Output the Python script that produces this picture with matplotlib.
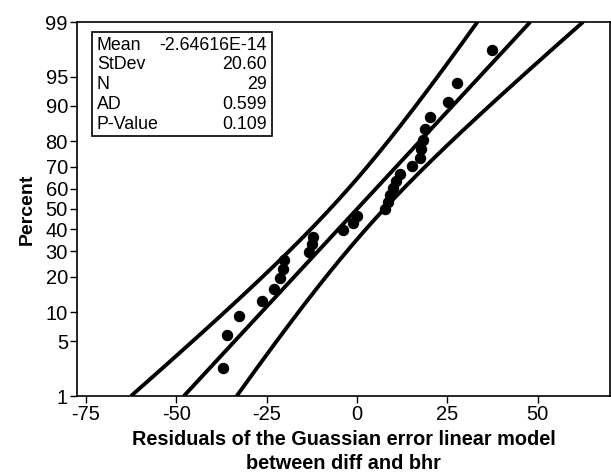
import numpy as np
import matplotlib
matplotlib.use('Agg')
import matplotlib.pyplot as plt
from matplotlib.patches import Rectangle
from statistics import NormalDist

plt.rcParams['font.family'] = ['Liberation Sans', 'DejaVu Sans']

# Residuals (sorted) and their plotting positions in percent
residuals = [-37.1, -36.0, -32.6, -26.2, -23.1, -21.3, -20.5, -20.3, -13.4, -12.5,
             -12.2, -4.0, -1.2, -0.1, 7.7, 8.5, 9.1, 9.9, 10.9, 11.9,
             15.3, 17.4, 17.7, 18.3, 18.9, 20.1, 25.3, 27.7, 37.3]
percents = [2.381, 5.782, 9.184, 12.585, 15.986, 19.388, 22.789, 26.190, 29.592, 32.993,
            36.395, 39.796, 43.197, 46.599, 50.0, 53.401, 56.803, 60.204, 63.605, 67.007,
            70.408, 73.810, 77.211, 80.612, 84.014, 87.415, 90.816, 94.218, 97.619]

# Summary stats shown in the box
mean = -2.64616e-14
stdev = 20.60
n = 29
ad = 0.599
p_value = 0.109

y_ticks = [1, 5, 10, 20, 30, 40, 50, 60, 70, 80, 90, 95, 99]
x_ticks = [-75, -50, -25, 0, 25, 50]

nd = NormalDist()
def pz(p):
    return nd.inv_cdf(p / 100.0)

W, H = 611, 476
fig = plt.figure(figsize=(W / 100, H / 100), dpi=100)
ax = fig.add_axes([77 / W, 1 - 396 / H, (610 - 77) / W, (396 - 22) / H])

# fitted line and 95% confidence band
zlo, zhi = pz(1), pz(99)
z = np.linspace(zlo, zhi, 200)
fit = mean + stdev * z
half = 1.96 * stdev * np.sqrt(1.0 / n + z ** 2 / (2 * (n - 1)))
for xs in (fit, fit - half, fit + half):
    ax.plot(xs, z, color='black', lw=2.8, solid_capstyle='butt', clip_on=True)

ax.scatter(residuals, [pz(p) for p in percents], s=52, color='black', zorder=3)

ax.set_xlim(-77.5, 70)
ax.set_ylim(zlo, zhi)
ax.set_xticks(x_ticks)
ax.set_xticklabels([str(t) for t in x_ticks])
ax.set_yticks([pz(p) for p in y_ticks])
ax.set_yticklabels([str(t) for t in y_ticks])
ax.tick_params(labelsize=14.5, length=5, width=1, direction='out', pad=1.5)
for s in ax.spines.values():
    s.set_linewidth(1.2)

ax.set_ylabel('Percent', fontsize=14, fontweight='bold', labelpad=7)
ax.set_xlabel('Residuals of the Guassian error linear model\nbetween diff and bhr',
              fontsize=14.3, fontweight='bold', labelpad=4, linespacing=1.35)

# stats box
fig.patches.append(Rectangle((92 / W, 1 - 136 / H), (272 - 92) / W, (136 - 32) / H,
                             transform=fig.transFigure, fill=False, ec='black', lw=1.2))
rows = [('Mean', '-2.64616E-14'), ('StDev', '%.2f' % stdev), ('N', str(n)),
        ('AD', '%.3f' % ad), ('P-Value', '%.3f' % p_value)]
for i, (lab, val) in enumerate(rows):
    yy = 1 - (45 + 19.8 * i) / H
    fig.text(97 / W, yy, lab, fontsize=12.8, va='center', ha='left')
    fig.text(267 / W, yy, val, fontsize=12.8, va='center', ha='right')

plt.savefig('out.png', dpi=100)
